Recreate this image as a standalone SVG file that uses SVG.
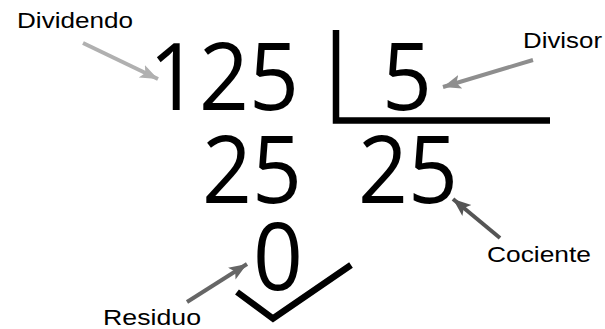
<svg xmlns="http://www.w3.org/2000/svg" width="605" height="329" viewBox="0 0 605 329">
<style>
.num{font-family:"Open Sans","Noto Sans","DejaVu Sans",sans-serif;font-size:94px;fill:#000;text-anchor:middle}
.lbl{font-family:"Liberation Sans",Arial,sans-serif;font-size:22px;fill:#000}
.bar{fill:none;stroke:#000;stroke-width:6.5;stroke-linejoin:miter;stroke-linecap:butt}
.arr{fill:none;stroke-width:4}
</style>
<defs>
<marker id="h1" markerUnits="userSpaceOnUse" markerWidth="20" markerHeight="16" refX="18" refY="8" orient="auto" viewBox="0 0 20 16"><path d="M0,1 L18,8 L0,15 L4,8 z" fill="#b0b0b0"/></marker>
<marker id="h2" markerUnits="userSpaceOnUse" markerWidth="20" markerHeight="16" refX="18" refY="8" orient="auto" viewBox="0 0 20 16"><path d="M0,1 L18,8 L0,15 L4,8 z" fill="#8e8e8e"/></marker>
<marker id="h3" markerUnits="userSpaceOnUse" markerWidth="20" markerHeight="16" refX="18" refY="8" orient="auto" viewBox="0 0 20 16"><path d="M0,1 L18,8 L0,15 L4,8 z" fill="#555555"/></marker>
<marker id="h4" markerUnits="userSpaceOnUse" markerWidth="20" markerHeight="16" refX="18" refY="8" orient="auto" viewBox="0 0 20 16"><path d="M0,1 L18,8 L0,15 L4,8 z" fill="#666666"/></marker>
</defs>
<rect width="605" height="329" fill="#fff"/>
<g id="dividend"><text class="num" x="0" y="110" transform="translate(224,0) scale(0.93,1)">125</text></g>
<g id="divisor"><text class="num" x="0" y="110" transform="translate(407,0) scale(0.93,1)">5</text></g>
<g id="bracket"><path class="bar" d="M336,30 L336,120.5 L550,120.5"/></g>
<g id="subtotal"><text class="num" x="0" y="203" transform="translate(252,0) scale(0.93,1)">25</text></g>
<g id="quotient"><text class="num" x="0" y="203" transform="translate(408,0) scale(0.93,1)">25</text></g>
<g id="remainder"><text class="num" x="0" y="290" transform="translate(278,0) scale(0.93,1)">0</text></g>
<g id="check"><path class="bar" d="M237,292 L273,318.5 L351,265"/></g>
<g id="label-dividendo"><text class="lbl" x="17" y="28" textLength="116" lengthAdjust="spacingAndGlyphs">Dividendo</text></g>
<g id="label-divisor"><text class="lbl" x="523" y="48" textLength="79" lengthAdjust="spacingAndGlyphs">Divisor</text></g>
<g id="label-cociente"><text class="lbl" x="487" y="262" textLength="104" lengthAdjust="spacingAndGlyphs">Cociente</text></g>
<g id="label-residuo"><text class="lbl" x="103" y="325" textLength="98" lengthAdjust="spacingAndGlyphs">Residuo</text></g>
<g id="connectors">
<path class="arr" stroke="#b0b0b0" d="M83,43 L158,79" marker-end="url(#h1)"/>
<path class="arr" stroke="#8e8e8e" d="M533,60 L443,87" marker-end="url(#h2)"/>
<path class="arr" stroke="#555555" d="M500,238 L453,199" marker-end="url(#h3)"/>
<path class="arr" stroke="#666666" d="M187,302 L247,264" marker-end="url(#h4)"/>
</g>
</svg>
